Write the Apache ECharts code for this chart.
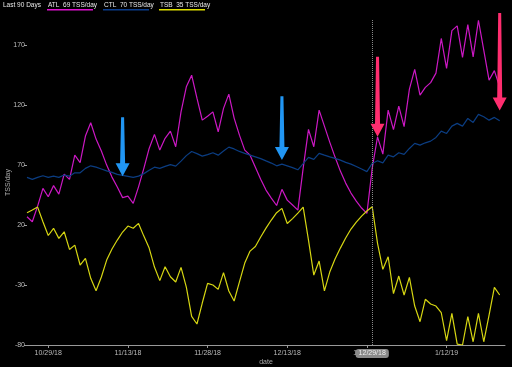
<!DOCTYPE html>
<html><head><meta charset="utf-8">
<script src="https://cdn.jsdelivr.net/npm/echarts@6/dist/echarts.min.js"></script>
<style>html,body{margin:0;padding:0;background:#000;}#c{width:512px;height:367px;}</style>
</head><body><div id="c"></div>
<script>
// ---- data ----
const startDate = [2018, 9, 25];   // 10/25/18
const dayCount = 91;               // axis runs one day past the last data point
const atl = [26.9,22.75,35.8,50.6,43.6,52.9,45.8,62.5,58.1,78.3,72.1,94.2,105.3,91.7,81.7,70,60,51.7,42.9,44.2,
  38.1,51.9,67.3,83.9,95.6,82.5,92.3,98.3,85.3,114.4,135.3,145,125.8,107.5,110.8,114.4,97.8,117.3,129.2,109.2,
  95,82.5,78.3,68.3,58.3,49.2,42.5,36.3,49.8,40.8,36.7,32.5,67.5,99.8,85.3,115.8,102.5,89.2,76.7,65,
  55,46.7,40,34.2,29.8,67.5,93.6,79.2,115.8,99.6,119.2,102.1,133.3,149.8,128.3,134.8,138.8,146.7,175.6,150.6,
  182.1,186.1,159.8,187.1,160.3,190.8,165.8,140.8,148.8,135];
const ctl = [59.8,58.1,59.8,61.1,59.8,60.8,59.8,61.7,60.8,63.6,63.6,67.3,69.4,68.3,66.8,65.2,63.9,62.3,61.4,60.6,
  59.8,60.8,62.9,65.8,68.3,67.3,68.9,70.4,69.2,73.3,77.9,81.4,79.6,77.5,78.8,80.3,78.3,81.7,85,83.5,
  81.4,79.8,78.3,76.9,75.4,73.5,71.7,69.4,70.8,69.4,67.9,66.1,71.3,76.4,74.8,79.8,78.3,76.9,75.6,74.2,
  72.3,70.8,68.8,66.7,64.6,71.4,73.6,71.9,78.3,76.9,80.3,78.9,83.9,88.1,86.7,88.6,90,93.1,98.3,96.4,
  102.5,104.8,102.5,108.9,105.6,112.3,110.3,107.5,109.8,106.9];
const tsb = [30.3,32.5,35,22.8,11.3,17.3,8.9,14.4,-0.3,3.3,-13.3,-7.8,-24.4,-34.8,-23.3,-9.2,0,7.5,14.2,19.2,
  17.3,21.4,10.8,0.8,-15,-26.3,-14.8,-23.1,-27.5,-15.3,-31.7,-56.1,-62.5,-45,-28.6,-30,-33.6,-19.6,-35,-43.3,
  -27.3,-11.7,-1.7,2.1,10,17.5,24.2,30.3,33.9,21.3,25.4,30,35,7.5,-21.7,-10,-34.8,-19.2,-8.3,0.8,
  9.2,16.7,22.5,27.5,31.7,35.3,4.8,-16.9,-6.4,-37.1,-22.5,-38.3,-23.6,-47.5,-60.6,-41.9,-45.8,-47.5,-53.1,-76.3,
  -53.6,-79.2,-80,-56.4,-77.3,-53.6,-77.3,-55,-31.9,-38.3];
const yTicks = [-80, -30, 20, 70, 120, 170];
const firstLabelIndex = 4, labelStep = 15;
const hoverIndex = 65;
const legendItems = [
  {name: 'ATL', value: 69, color: '#e010d0'},
  {name: 'CTL', value: 70, color: '#0a3c8c'},
  {name: 'TSB', value: 35, color: '#e0e000'}
];
const arrows = [
  {day: 17.9, from: 110, to: 60.8, color: '#2196f3'},
  {day: 48.1, from: 127.5, to: 74.2, color: '#2196f3'},
  {day: 65.5, from: 160.3, to: 93.6, color: '#ff2d6f'},
  {day: 89.2, from: 196.9, to: 115.5, color: '#ff2d6f'}
];

// ---- build ----
const dates = [];
for (let i = 0; i < dayCount; i++) {
  const d = new Date(startDate[0], startDate[1], startDate[2] + i);
  dates.push((d.getMonth() + 1) + '/' + d.getDate() + '/' + String(d.getFullYear()).slice(2));
}
const FONT = 'Liberation Sans, Arial, sans-serif';
const chart = echarts.init(document.getElementById('c'));
const showLabel = (i) => i >= firstLabelIndex && (i - firstLabelIndex) % labelStep === 0;

const legendGraphics = [{
  type: 'text', left: 3, top: 2,
  style: {text: 'Last 90 Days', fill: '#e8e8e8', font: '6.5px ' + FONT}
}];
const legendX = [48, 104, 160];
legendItems.forEach((it, k) => {
  legendGraphics.push({type: 'text', left: legendX[k], top: 2,
    style: {text: it.name + '  ' + it.value + ' TSS/day', fill: '#e8e8e8', font: '6.5px ' + FONT}});
  legendGraphics.push({type: 'rect', left: legendX[k] - 1, top: 9,
    shape: {width: 46, height: 1.5}, style: {fill: it.color}});
});

chart.setOption({
  backgroundColor: '#000',
  animation: false,
  grid: {left: 27, right: 7, top: 20, bottom: 22, containLabel: false, outerBoundsMode: 'none'},
  xAxis: {
    type: 'category', data: dates, boundaryGap: false,
    name: 'date', nameLocation: 'middle', nameGap: 14, nameMoveOverlap: false,
    nameTextStyle: {color: '#aaa', fontSize: 7, fontFamily: FONT},
    axisLine: {onZero: false, lineStyle: {color: '#999', width: 1}},
    axisTick: {interval: (i) => showLabel(i), length: 3, lineStyle: {color: '#999'}},
    axisLabel: {interval: (i) => showLabel(i), color: '#bbb', fontSize: 7, margin: 5, fontFamily: FONT},
    splitLine: {show: false},
    axisPointer: {
      show: true, status: 'show', value: hoverIndex, type: 'line', snap: true, triggerTooltip: false,
      lineStyle: {color: '#888', type: 'dotted', width: 1},
      label: {show: true, backgroundColor: '#8a8a8a', color: '#eee', borderRadius: 3,
        padding: [1, 3], fontSize: 7, fontFamily: FONT, margin: 4}
    }
  },
  yAxis: {
    type: 'value', min: -80, max: 191,
    name: 'TSS/day', nameLocation: 'middle', nameGap: 15, nameMoveOverlap: false,
    nameTextStyle: {color: '#aaa', fontSize: 7, fontFamily: FONT},
    axisLine: {show: false},
    axisTick: {show: true, length: 3, customValues: yTicks, lineStyle: {color: '#999'}},
    axisLabel: {customValues: yTicks, color: '#bbb', fontSize: 7, margin: 2, fontFamily: FONT},
    splitLine: {show: false}
  },
  series: [
    {name: 'ATL', type: 'line', data: atl, symbol: 'none', lineStyle: {color: '#cc18c4', width: 1.2}, itemStyle: {color: '#cc18c4'}},
    {name: 'CTL', type: 'line', data: ctl, symbol: 'none', lineStyle: {color: '#0b3d82', width: 1.2}, itemStyle: {color: '#0b3d82'}},
    {name: 'TSB', type: 'line', data: tsb, symbol: 'none', lineStyle: {color: '#d6d612', width: 1.2}, itemStyle: {color: '#d6d612'}}
  ],
  graphic: legendGraphics
});

// annotation arrows, placed through the chart's own scales
const arrowGraphics = arrows.map(a => {
  const p0 = chart.convertToPixel({gridIndex: 0}, [a.day, a.from]);
  const p1 = chart.convertToPixel({gridIndex: 0}, [a.day, a.to]);
  const x = p0[0], yTop = p0[1], yTip = p1[1];
  const hh = 13, hw = 7, sTop = 1.5, sBot = 2.5;
  return {type: 'polygon', z: 100,
    shape: {points: [[x - sTop, yTop], [x + sTop, yTop], [x + sBot, yTip - hh], [x + hw, yTip - hh],
      [x, yTip], [x - hw, yTip - hh], [x - sBot, yTip - hh]]},
    style: {fill: a.color}};
});
chart.setOption({graphic: legendGraphics.concat(arrowGraphics)});
</script></body></html>
